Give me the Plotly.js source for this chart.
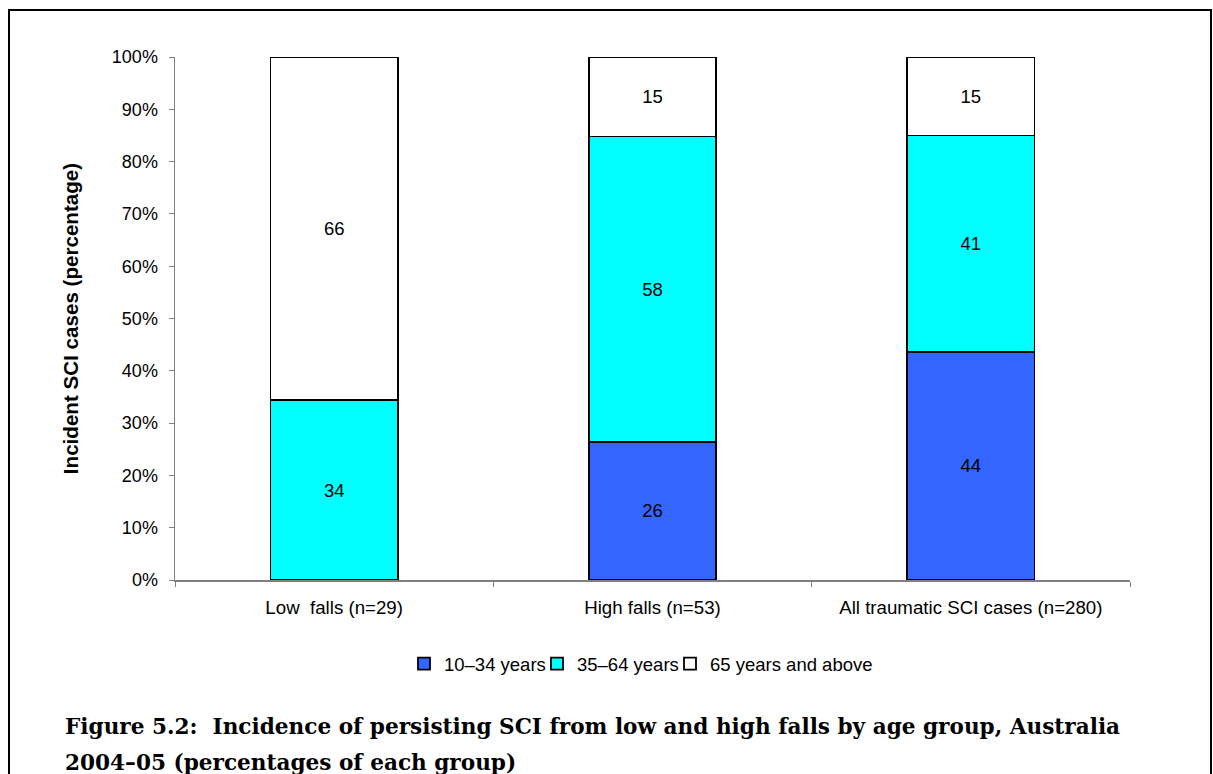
<!DOCTYPE html>
<html>
<head>
<meta charset="utf-8">
<script src="https://cdn.plot.ly/plotly-3.0.1.min.js"></script>
<style>
  html, body { margin: 0; padding: 0; background: #fff; }
  #chart { width: 1213px; height: 774px; }
</style>
</head>
<body>
<div id="chart"></div>
<script>
// Data (percent of each group)
const categories = ['Low  falls (n=29)', 'High falls (n=53)', 'All traumatic SCI cases (n=280)'];
const ageGroups = ['10–34 years', '35–64 years', '65 years and above'];
const young = [0, 26.4, 43.6];
const middle = [34.4, 58.4, 41.4];
const older = [65.6, 15.2, 15.0];
const yTicks = [0, 10, 20, 30, 40, 50, 60, 70, 80, 90, 100];

const colors = ['#3366ff', '#00ffff', '#ffffff'];

// plot area in page pixels
const W = 1213, H = 774;
const plotL = 175, plotR = 1130, plotT = 57, plotB = 580;

// page pixel -> paper coordinate helpers (for frame, legend and caption)
function px(x) { return (x - plotL) / (plotR - plotL); }
function py(y) { return (plotB - y) / (plotB - plotT); }

const fontSans = 'Arial, "Liberation Sans", Helvetica, sans-serif';
const fontSerif = '"DejaVu Serif", "Liberation Serif", serif';

// one small legend per age group so the entries sit close together like the original
const legendIds = ['legend', 'legend2', 'legend3'];
const legendLeft = [404, 537, 670];

function makeTrace(values, i) {
    return {
        x: categories,
        y: values,
        type: 'bar',
        name: ageGroups[i],
        legend: legendIds[i],
        width: 0.4,
        marker: {
            color: colors[i],
            line: { color: '#000000', width: 1.8 }
        },
        text: values.map(v => v > 0 ? String(Math.round(v)) : ''),
        textposition: 'inside',
        insidetextanchor: 'middle',
        textfont: { family: fontSans, size: 18.5, color: '#000000' },
        hoverinfo: 'skip'
    };
}

const traces = [young, middle, older].map(makeTrace);

function legendBox(i) {
    return {
        orientation: 'h',
        x: px(legendLeft[i]),
        xanchor: 'left',
        y: py(664),
        yanchor: 'middle',
        font: { family: fontSans, size: 18.5, color: '#000000' },
        itemwidth: 30,
        bgcolor: 'rgba(0,0,0,0)'
    };
}

const layout = {
    width: W,
    height: H,
    margin: { l: plotL, r: W - plotR, t: plotT, b: H - plotB },
    barmode: 'stack',
    paper_bgcolor: '#ffffff',
    plot_bgcolor: '#ffffff',
    font: { family: fontSans, size: 18, color: '#000000' },
    showlegend: true,
    legend: legendBox(0),
    legend2: legendBox(1),
    legend3: legendBox(2),
    xaxis: {
        type: 'category',
        tickson: 'boundaries',
        ticks: 'outside',
        ticklen: 5,
        tickcolor: '#808080',
        ticklabelstandoff: 10,
        showline: true,
        linecolor: '#808080',
        linewidth: 1.5,
        showgrid: false,
        zeroline: false,
        tickfont: { family: fontSans, size: 18.7, color: '#000000' },
        fixedrange: true
    },
    yaxis: {
        range: [0, 100],
        tickvals: yTicks,
        ticktext: yTicks.map(v => v + '%'),
        ticks: 'outside',
        ticklen: 5,
        tickcolor: '#808080',
        ticklabelstandoff: 7,
        showline: true,
        linecolor: '#808080',
        linewidth: 1.5,
        showgrid: false,
        zeroline: false,
        tickfont: { family: fontSans, size: 18, color: '#000000' },
        title: {
            text: '<b>Incident SCI cases (percentage)</b>',
            font: { family: fontSans, size: 20.6, color: '#000000' },
            standoff: 27
        },
        fixedrange: true
    },
    shapes: [{
        type: 'rect',
        xref: 'paper', yref: 'paper',
        x0: px(9), x1: px(1211),
        y0: py(800), y1: py(10),
        line: { color: '#000000', width: 2 },
        fillcolor: 'rgba(0,0,0,0)',
        layer: 'below'
    }],
    annotations: [
        {
            xref: 'paper', yref: 'paper',
            x: px(63), y: py(726),
            xanchor: 'left', yanchor: 'middle',
            showarrow: false,
            align: 'left',
            text: '<b>Figure 5.2:  Incidence of persisting SCI from low and high falls by age group, Australia</b>',
            font: { family: fontSerif, size: 21.6, color: '#000000' }
        },
        {
            xref: 'paper', yref: 'paper',
            x: px(63), y: py(762),
            xanchor: 'left', yanchor: 'middle',
            showarrow: false,
            align: 'left',
            text: '<b>2004–05 (percentages of each group)</b>',
            font: { family: fontSerif, size: 21.6, color: '#000000' }
        }
    ]
};

Plotly.newPlot('chart', traces, layout, { displayModeBar: false, staticPlot: true });
</script>
</body>
</html>
